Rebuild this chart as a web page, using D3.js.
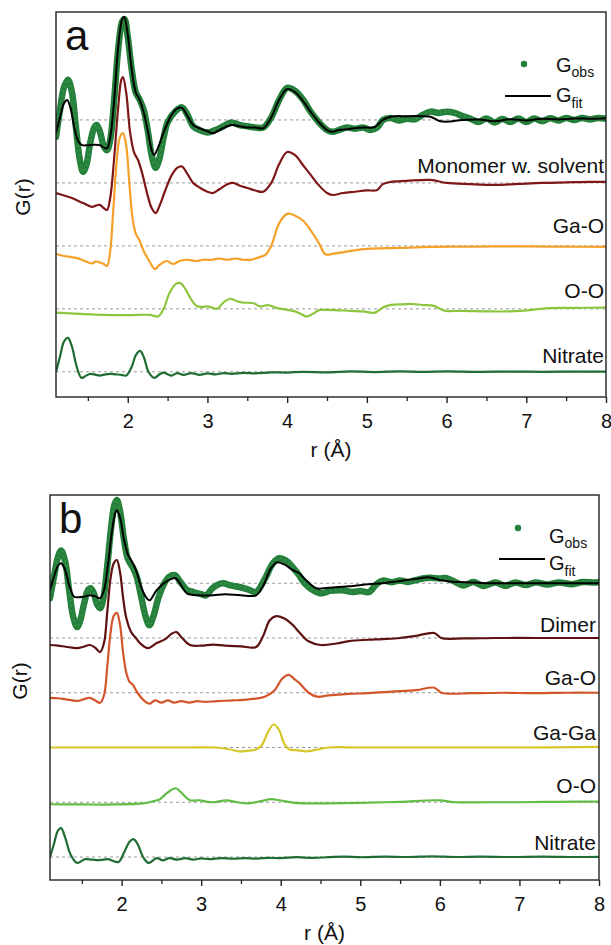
<!DOCTYPE html>
<html><head><meta charset="utf-8">
<script src="https://cdn.jsdelivr.net/npm/d3@7"></script>
<style>body{margin:0;background:#fff} svg text{font-family:"Liberation Sans",Arial,Helvetica,sans-serif;fill:#111}</style>
</head><body><svg id="c" width="611" height="945"></svg>
<script>
// ---------- axis ----------
const xDomain = [1.1, 8];
const xTicks = [2, 3, 4, 5, 6, 7, 8];
const xMinor = [1.5, 2.5, 3.5, 4.5, 5.5, 6.5, 7.5];

// ---------- panel a : [r, G] relative to each curve's offset ----------
const aLabels  = ["Monomer w. solvent", "Ga-O", "O-O", "Nitrate"];
const aOffsets = [10, 7.5, 5, 2.5, 0];   // Gobs/Gfit, Monomer, Ga-O, O-O, Nitrate

const aObs = [[1.1,-0.67],[1.15,0.4],[1.2,1.3],[1.25,1.6],[1.3,1.1],[1.35,-0.3],[1.4,-1.6],[1.44,-2.06],[1.48,-1.8],[1.53,-0.9],[1.58,-0.3],[1.61,-0.2],[1.65,-0.45],[1.7,-1.05],[1.74,-1.2],[1.78,-0.8],[1.83,0.8],[1.88,2.8],[1.93,3.9],[1.96,4.0],[2.0,3.3],[2.05,2.0],[2.1,1.1],[2.15,0.8],[2.2,0.4],[2.25,-0.4],[2.3,-1.4],[2.35,-1.9],[2.4,-1.5],[2.45,-0.7],[2.5,-0.1],[2.6,0.35],[2.68,0.5],[2.75,0.2],[2.82,-0.25],[2.9,-0.4],[3.0,-0.5],[3.1,-0.4],[3.2,-0.25],[3.3,-0.1],[3.4,-0.2],[3.5,-0.25],[3.6,-0.3],[3.7,-0.3],[3.8,0.1],[3.9,0.8],[4.0,1.27],[4.1,1.15],[4.2,0.8],[4.3,0.3],[4.4,-0.1],[4.5,-0.4],[4.57,-0.47],[4.65,-0.4],[4.75,-0.3],[4.85,-0.35],[4.95,-0.3],[5.05,-0.4],[5.13,-0.3],[5.2,0.0],[5.3,0.08],[5.4,-0.02],[5.5,0.05],[5.6,0.02],[5.7,0.2],[5.8,0.33],[5.9,0.28],[6.0,0.33],[6.1,0.28],[6.2,0.15],[6.3,0.05],[6.4,-0.08],[6.5,0.06],[6.6,-0.1],[6.7,0.04],[6.8,-0.08],[6.9,0.06],[7.0,-0.08],[7.1,0.06],[7.2,-0.05],[7.3,0.07],[7.4,-0.02],[7.5,0.08],[7.6,0.0],[7.7,0.08],[7.8,0.02],[7.9,0.08],[8.0,0.05]];
const aFit = [[1.1,-0.52],[1.15,0.1],[1.2,0.65],[1.24,0.79],[1.28,0.5],[1.33,-0.3],[1.38,-0.85],[1.43,-1.0],[1.5,-1.0],[1.58,-0.98],[1.65,-1.0],[1.7,-1.1],[1.74,-1.13],[1.78,-0.7],[1.83,0.8],[1.88,2.9],[1.93,4.0],[1.955,4.1],[2.0,3.4],[2.05,2.0],[2.1,1.1],[2.15,0.8],[2.2,0.3],[2.25,-0.4],[2.3,-1.2],[2.33,-1.39],[2.38,-1.1],[2.45,-0.5],[2.55,0.2],[2.62,0.45],[2.68,0.48],[2.75,0.15],[2.82,-0.2],[2.9,-0.33],[3.0,-0.45],[3.07,-0.53],[3.15,-0.4],[3.25,-0.25],[3.32,-0.2],[3.4,-0.25],[3.5,-0.3],[3.6,-0.3],[3.7,-0.33],[3.8,0.1],[3.9,0.8],[4.0,1.23],[4.1,1.1],[4.2,0.75],[4.3,0.3],[4.4,-0.1],[4.5,-0.4],[4.57,-0.47],[4.65,-0.4],[4.8,-0.35],[4.95,-0.3],[5.1,-0.28],[5.2,0.0],[5.3,0.13],[5.5,0.15],[5.7,0.15],[5.8,0.13],[5.9,-0.03],[6.0,-0.07],[6.2,0.0],[6.4,0.02],[6.6,-0.05],[6.8,0.03],[7.0,-0.02],[7.2,0.05],[7.4,0.02],[7.6,0.06],[7.8,0.05],[8.0,0.07]];
const aMonomer = [[1.1,-0.4],[1.2,-0.5],[1.3,-0.6],[1.44,-0.8],[1.55,-0.95],[1.6,-0.9],[1.65,-0.87],[1.7,-1.0],[1.74,-1.07],[1.78,-0.6],[1.83,1.0],[1.88,3.0],[1.92,4.1],[1.94,4.2],[1.98,3.6],[2.03,2.0],[2.08,1.2],[2.13,0.9],[2.18,0.4],[2.25,-0.5],[2.3,-1.0],[2.35,-1.2],[2.4,-0.9],[2.47,-0.3],[2.55,0.3],[2.62,0.6],[2.68,0.65],[2.75,0.35],[2.82,0.0],[2.91,-0.2],[3.0,-0.35],[3.07,-0.4],[3.15,-0.25],[3.25,-0.05],[3.32,0.0],[3.4,-0.1],[3.5,-0.2],[3.6,-0.3],[3.7,-0.35],[3.8,0.0],[3.9,0.75],[4.0,1.23],[4.1,1.1],[4.2,0.7],[4.3,0.3],[4.4,-0.1],[4.5,-0.4],[4.57,-0.48],[4.7,-0.4],[4.85,-0.35],[5.0,-0.3],[5.13,-0.28],[5.2,-0.05],[5.3,0.04],[5.5,0.08],[5.8,0.12],[6.0,0.0],[6.3,-0.05],[6.6,-0.08],[6.9,-0.04],[7.2,0.0],[7.5,0.02],[7.8,0.04],[8.0,0.04]];
const aGaO = [[1.1,-0.32],[1.2,-0.4],[1.3,-0.45],[1.4,-0.52],[1.5,-0.65],[1.55,-0.7],[1.6,-0.62],[1.65,-0.66],[1.7,-0.72],[1.74,-0.8],[1.78,-0.2],[1.82,1.5],[1.86,3.3],[1.9,4.3],[1.94,4.48],[1.98,4.0],[2.02,2.5],[2.06,1.1],[2.1,0.5],[2.15,0.2],[2.2,-0.2],[2.27,-0.6],[2.34,-0.92],[2.4,-0.75],[2.49,-0.6],[2.57,-0.72],[2.65,-0.6],[2.75,-0.55],[2.85,-0.6],[2.95,-0.55],[3.05,-0.55],[3.15,-0.5],[3.25,-0.55],[3.35,-0.5],[3.45,-0.55],[3.55,-0.55],[3.65,-0.45],[3.73,-0.35],[3.8,0.0],[3.9,0.9],[4.0,1.27],[4.1,1.2],[4.2,1.0],[4.3,0.6],[4.4,0.1],[4.48,-0.33],[4.6,-0.3],[4.8,-0.2],[5.0,-0.12],[5.4,-0.08],[5.8,-0.04],[6.2,-0.03],[6.6,-0.02],[7.0,-0.02],[7.5,-0.03],[8.0,-0.04]];
const aOO = [[1.1,-0.15],[1.4,-0.2],[1.7,-0.24],[2.0,-0.25],[2.28,-0.24],[2.38,-0.3],[2.45,0.0],[2.52,0.6],[2.6,0.98],[2.66,1.02],[2.72,0.8],[2.8,0.35],[2.87,0.1],[2.93,0.08],[2.99,0.1],[3.06,0.05],[3.12,0.0],[3.2,0.25],[3.29,0.4],[3.37,0.3],[3.45,0.25],[3.58,0.22],[3.66,0.1],[3.76,0.15],[3.85,0.05],[4.0,-0.04],[4.1,-0.1],[4.2,-0.25],[4.25,-0.3],[4.32,-0.2],[4.4,-0.05],[4.48,-0.04],[4.6,-0.05],[4.79,-0.08],[4.95,-0.1],[5.1,-0.15],[5.2,0.05],[5.3,0.16],[5.45,0.18],[5.55,0.2],[5.7,0.15],[5.84,0.12],[5.93,-0.02],[5.99,-0.08],[6.2,-0.08],[6.5,-0.1],[6.8,-0.1],[7.05,-0.05],[7.27,0.03],[7.6,0.04],[8.0,0.05]];
const aNitrate = [[1.1,0.0],[1.15,0.6],[1.2,1.2],[1.25,1.35],[1.3,1.0],[1.36,0.2],[1.42,-0.24],[1.48,-0.15],[1.53,-0.08],[1.6,-0.12],[1.65,-0.15],[1.72,-0.1],[1.78,-0.08],[1.85,-0.1],[1.92,-0.12],[1.98,-0.15],[2.05,0.2],[2.1,0.65],[2.155,0.83],[2.2,0.6],[2.26,0.0],[2.33,-0.24],[2.4,-0.1],[2.45,-0.03],[2.5,-0.1],[2.55,-0.15],[2.62,-0.05],[2.7,-0.12],[2.8,-0.05],[2.9,-0.12],[3.0,-0.06],[3.1,-0.1],[3.2,-0.05],[3.3,-0.08],[3.45,-0.04],[3.6,-0.06],[3.8,-0.02],[4.0,-0.03],[4.2,0.0],[4.5,-0.02],[4.8,0.02],[5.1,-0.01],[5.4,0.02],[5.7,0.0],[6.0,0.02],[6.4,0.0],[6.8,0.01],[7.2,0.0],[7.6,0.01],[8.0,0.01]];

// ---------- panel b ----------
const bLabels  = ["Dimer", "Ga-O", "Ga-Ga", "O-O", "Nitrate"];
const bOffsets = [12.5, 10, 7.5, 5, 2.5, 0];  // Gobs/Gfit, Dimer, Ga-O, Ga-Ga, O-O, Nitrate

const bObs = [[1.1,-0.68],[1.15,0.3],[1.2,1.2],[1.24,1.5],[1.29,1.0],[1.34,-0.3],[1.39,-1.5],[1.44,-2.0],[1.48,-1.7],[1.53,-0.9],[1.58,-0.3],[1.61,-0.23],[1.65,-0.45],[1.69,-0.95],[1.73,-1.14],[1.77,-0.7],[1.82,0.8],[1.87,2.6],[1.91,3.6],[1.94,3.8],[1.98,3.3],[2.03,2.0],[2.08,1.1],[2.14,0.73],[2.19,0.3],[2.24,-0.5],[2.3,-1.5],[2.35,-1.92],[2.4,-1.5],[2.46,-0.7],[2.53,-0.05],[2.6,0.3],[2.67,0.37],[2.74,0.05],[2.82,-0.3],[2.9,-0.4],[3.0,-0.5],[3.06,-0.55],[3.15,-0.2],[3.27,0.0],[3.37,-0.1],[3.48,-0.17],[3.6,-0.3],[3.69,-0.4],[3.8,0.2],[3.9,0.9],[3.98,1.14],[4.08,1.0],[4.18,0.6],[4.23,0.37],[4.3,0.0],[4.4,-0.3],[4.52,-0.46],[4.62,-0.35],[4.77,-0.32],[4.9,-0.4],[5.0,-0.35],[5.11,-0.4],[5.2,-0.05],[5.28,0.12],[5.4,0.05],[5.5,0.13],[5.6,0.06],[5.7,0.15],[5.86,0.25],[6.0,0.22],[6.07,0.24],[6.2,0.05],[6.3,-0.1],[6.42,0.06],[6.55,-0.12],[6.7,0.04],[6.82,-0.12],[6.95,0.04],[7.08,-0.08],[7.2,0.04],[7.35,-0.06],[7.5,0.04],[7.65,-0.04],[7.8,0.06],[7.95,0.03],[8.0,0.06]];
const bFit = [[1.1,-0.32],[1.15,0.3],[1.2,0.8],[1.24,0.91],[1.29,0.6],[1.35,-0.2],[1.4,-0.6],[1.44,-0.64],[1.52,-0.62],[1.6,-0.55],[1.67,-0.6],[1.73,-0.68],[1.78,-0.3],[1.83,0.9],[1.88,2.4],[1.92,3.2],[1.94,3.33],[1.98,3.0],[2.03,2.0],[2.08,1.3],[2.12,1.05],[2.18,0.6],[2.24,-0.1],[2.3,-0.6],[2.35,-0.78],[2.44,-0.32],[2.55,0.05],[2.63,0.2],[2.68,0.23],[2.75,-0.1],[2.82,-0.46],[2.98,-0.55],[3.15,-0.55],[3.3,-0.5],[3.5,-0.55],[3.69,-0.55],[3.78,-0.1],[3.88,0.7],[3.96,0.96],[4.05,0.85],[4.15,0.6],[4.23,0.46],[4.33,0.1],[4.45,-0.23],[4.6,-0.2],[4.86,-0.14],[5.1,-0.05],[5.28,0.0],[5.5,0.1],[5.7,0.2],[5.86,0.27],[6.0,0.15],[6.15,0.07],[6.32,0.05],[6.6,0.0],[7.0,0.0],[7.5,0.0],[8.0,0.0]];
const bDimer = [[1.1,-0.32],[1.2,-0.35],[1.3,-0.4],[1.44,-0.46],[1.52,-0.4],[1.6,-0.32],[1.67,-0.45],[1.73,-0.64],[1.78,-0.2],[1.82,1.2],[1.86,2.7],[1.9,3.4],[1.94,3.56],[1.98,3.0],[2.02,1.8],[2.06,0.9],[2.12,0.27],[2.18,0.0],[2.23,-0.23],[2.33,-0.46],[2.44,-0.23],[2.55,-0.05],[2.63,0.2],[2.69,0.27],[2.76,0.0],[2.86,-0.32],[3.0,-0.35],[3.15,-0.3],[3.3,-0.35],[3.5,-0.38],[3.69,-0.41],[3.78,0.1],[3.86,0.8],[3.94,1.0],[4.04,0.9],[4.15,0.6],[4.23,0.27],[4.35,-0.15],[4.5,-0.32],[4.7,-0.25],[4.86,-0.14],[5.1,-0.08],[5.28,-0.05],[5.5,0.0],[5.7,0.1],[5.93,0.23],[6.02,0.0],[6.3,-0.02],[6.7,0.0],[7.2,0.0],[7.6,0.0],[8.0,0.0]];
const bGaO = [[1.1,-0.23],[1.2,-0.25],[1.3,-0.3],[1.44,-0.37],[1.52,-0.3],[1.6,-0.23],[1.67,-0.35],[1.73,-0.46],[1.78,-0.1],[1.82,1.2],[1.86,2.7],[1.9,3.5],[1.94,3.65],[1.98,3.1],[2.02,1.8],[2.06,0.9],[2.1,0.5],[2.14,0.37],[2.2,0.0],[2.28,-0.35],[2.35,-0.5],[2.42,-0.35],[2.5,-0.45],[2.58,-0.35],[2.66,-0.45],[2.75,-0.38],[2.85,-0.45],[2.95,-0.38],[3.05,-0.42],[3.2,-0.38],[3.4,-0.35],[3.6,-0.3],[3.8,-0.18],[3.92,0.1],[4.02,0.65],[4.1,0.82],[4.18,0.6],[4.23,0.46],[4.35,0.0],[4.46,-0.18],[4.6,-0.12],[4.86,-0.05],[5.1,-0.02],[5.4,0.05],[5.7,0.12],[5.93,0.23],[6.02,0.0],[6.4,-0.02],[6.8,0.0],[7.2,-0.02],[7.6,0.0],[8.0,0.0]];
const bGaGa = [[1.1,0.0],[1.6,0.0],[2.2,0.0],[2.8,0.0],[3.19,0.0],[3.35,-0.08],[3.48,-0.18],[3.6,-0.14],[3.69,-0.09],[3.76,0.1],[3.84,0.7],[3.91,1.05],[3.98,0.8],[4.04,0.2],[4.11,-0.09],[4.2,-0.12],[4.32,-0.18],[4.45,-0.1],[4.6,0.0],[5.0,0.0],[6.0,0.0],[7.0,0.0],[8.0,0.03]];
const bOO = [[1.1,-0.09],[1.5,-0.1],[1.9,-0.1],[2.27,-0.05],[2.4,0.05],[2.48,0.14],[2.58,0.45],[2.68,0.64],[2.76,0.4],[2.86,0.09],[2.98,0.09],[3.08,0.02],[3.15,0.0],[3.32,0.09],[3.45,0.0],[3.6,-0.05],[3.75,0.05],[3.88,0.14],[4.0,0.08],[4.15,-0.02],[4.32,-0.05],[4.6,-0.05],[5.0,-0.03],[5.5,0.02],[5.99,0.09],[6.2,0.0],[6.6,0.0],[7.0,0.0],[7.5,0.02],[8.0,0.03]];
const bNitrate = [[1.1,0.0],[1.15,0.6],[1.2,1.2],[1.24,1.32],[1.29,0.9],[1.36,0.1],[1.44,-0.27],[1.54,-0.1],[1.63,-0.12],[1.73,-0.14],[1.83,-0.1],[1.96,-0.23],[2.03,0.2],[2.1,0.7],[2.15,0.82],[2.2,0.6],[2.27,0.0],[2.34,-0.27],[2.44,-0.05],[2.52,-0.15],[2.6,-0.05],[2.7,-0.12],[2.8,-0.05],[2.9,-0.12],[3.0,-0.06],[3.1,-0.1],[3.25,-0.05],[3.4,-0.08],[3.55,-0.05],[3.7,-0.07],[3.85,-0.04],[4.0,-0.05],[4.2,-0.01],[4.4,-0.04],[4.6,-0.01],[4.8,0.02],[5.0,-0.01],[5.3,0.02],[5.6,0.0],[5.9,0.03],[6.2,0.0],[6.5,0.02],[6.9,0.0],[7.3,0.02],[7.7,0.0],[8.0,0.01]];

// ---------- drawing ----------
const svg = d3.select("#c");
const OBS = "#24803a";

function drawPanel(p) {
  const x = d3.scaleLinear().domain(xDomain).range([p.left, p.right]);
  const y = d3.scaleLinear().domain(p.yDomain).range([p.bottom, p.top]);
  const g = svg.append("g");
  const clipId = "clip" + p.id;
  svg.append("clipPath").attr("id", clipId).append("rect")
    .attr("x", p.left).attr("y", p.top).attr("width", p.right - p.left).attr("height", p.bottom - p.top);
  const plot = g.append("g").attr("clip-path", `url(#${clipId})`);

  // dashed baselines
  plot.selectAll("line.base").data(p.offsets).join("line")
    .attr("x1", x(xDomain[0])).attr("x2", x(xDomain[1]))
    .attr("y1", d => y(d)).attr("y2", d => y(d))
    .attr("stroke", "#9a9a9a").attr("stroke-width", 1).attr("stroke-dasharray", "3,3");

  const line = off => d3.line().curve(d3.curveCatmullRom.alpha(0.5))
    .x(d => x(d[0])).y(d => y(d[1] + off));

  // components
  p.comps.forEach((c, i) => {
    plot.append("path").datum(c.data).attr("d", line(p.offsets[i + 1]))
      .attr("fill", "none").attr("stroke", c.color).attr("stroke-width", 2.2)
      .attr("stroke-linejoin", "round");
  });
  // observed (thick dotted band) and fit
  plot.append("path").datum(p.obs).attr("d", line(p.offsets[0]))
    .attr("fill", "none").attr("stroke", OBS).attr("stroke-width", 6.5)
    .attr("stroke-linejoin", "round").attr("stroke-linecap", "round");
  plot.append("path").datum(p.obs).attr("d", line(p.offsets[0]))
    .attr("fill", "none").attr("stroke", "#3d9650").attr("stroke-width", 2.5)
    .attr("stroke-dasharray", "2,3").attr("opacity", 0.6);
  plot.append("path").datum(p.fit).attr("d", line(p.offsets[0]))
    .attr("fill", "none").attr("stroke", "#000").attr("stroke-width", 2);

  // labels
  g.selectAll("text.lab").data(p.comps).join("text")
    .attr("x", p.right - p.labDx).attr("y", (d, i) => y(p.offsets[i + 1]) - p.labDy[i])
    .attr("text-anchor", "end").attr("font-size", 21).text(d => d.label);

  // frame
  g.append("rect").attr("x", p.left).attr("y", p.top)
    .attr("width", p.right - p.left).attr("height", p.bottom - p.top)
    .attr("fill", "none").attr("stroke", "#222").attr("stroke-width", 1.4);

  // axis
  const ax = g.append("g").attr("transform", `translate(0,${p.bottom})`)
    .call(d3.axisBottom(x).tickValues(xTicks).tickFormat(d3.format("d"))
      .tickSize(6).tickSizeOuter(0).tickPadding(11));
  ax.select(".domain").remove();
  ax.selectAll("line").attr("stroke", "#222").attr("stroke-width", 1.4);
  ax.selectAll("text").attr("font-size", 20).attr("fill", "#111")
    .attr("font-family", '"Liberation Sans",Arial,sans-serif');
  const axm = g.append("g").attr("transform", `translate(0,${p.bottom})`)
    .call(d3.axisBottom(x).tickValues(xMinor).tickSize(4).tickFormat(""));
  axm.select(".domain").remove();
  axm.selectAll("line").attr("stroke", "#222").attr("stroke-width", 1.3);

  // axis titles
  g.append("text").attr("x", (p.left + p.right) / 2).attr("y", p.xTitleY)
    .attr("text-anchor", "middle").attr("font-size", 21).text("r (Å)");
  g.append("text").attr("transform", `translate(${p.yTitleX},${p.yTitleY}) rotate(-90)`)
    .attr("text-anchor", "middle").attr("font-size", 21).text("G(r)");
  // panel letter
  g.append("text").attr("x", p.left + 9).attr("y", p.letterY)
    .attr("font-size", 42).text(p.letter);

  // legend
  const L = p.legend;
  g.append("circle").attr("cx", L.dotX).attr("cy", L.dotY).attr("r", 3.2).attr("fill", OBS);
  const t1 = g.append("text").attr("x", L.textX).attr("y", L.obsY).attr("font-size", 20);
  t1.append("tspan").text("G");
  t1.append("tspan").attr("dy", 5).attr("font-size", 14).text("obs");
  g.append("line").attr("x1", L.lineX1).attr("x2", L.lineX2).attr("y1", L.lineY).attr("y2", L.lineY)
    .attr("stroke", "#000").attr("stroke-width", 2);
  const t2 = g.append("text").attr("x", L.textX).attr("y", L.fitY).attr("font-size", 20);
  t2.append("tspan").text("G");
  t2.append("tspan").attr("dy", 6).attr("font-size", 14).text("fit");
}

drawPanel({
  id: "a", letter: "a", left: 56, right: 606, top: 12, bottom: 397,
  yDomain: [-1, 14.286], offsets: aOffsets,
  obs: aObs, fit: aFit,
  comps: [
    { data: aMonomer, color: "#7e1717", label: aLabels[0] },
    { data: aGaO, color: "#f5a028", label: aLabels[1] },
    { data: aOO, color: "#8cc63e", label: aLabels[2] },
    { data: aNitrate, color: "#1f6d34", label: aLabels[3] }
  ],
  labDx: 2, labDy: [10, 13, 11, 9],
  xTitleY: 457, yTitleX: 30, yTitleY: 197, letterY: 50,
  legend: { dotX: 524, dotY: 64, textX: 556, obsY: 72, lineX1: 505, lineX2: 551, lineY: 96, fitY: 102 }
});

drawPanel({
  id: "b", letter: "b", left: 50, right: 599, top: 495, bottom: 880,
  yDomain: [-1.05, 16.53], offsets: bOffsets,
  obs: bObs, fit: bFit,
  comps: [
    { data: bDimer, color: "#5e1111", label: bLabels[0] },
    { data: bGaO, color: "#d2552b", label: bLabels[1] },
    { data: bGaGa, color: "#d6c62c", label: bLabels[2] },
    { data: bOO, color: "#62bd45", label: bLabels[3] },
    { data: bNitrate, color: "#1f6d34", label: bLabels[4] }
  ],
  labDx: 3, labDy: [6, 8, 8, 9, 7],
  xTitleY: 940, yTitleX: 27, yTitleY: 681, letterY: 533,
  legend: { dotX: 518, dotY: 528, textX: 549, obsY: 543, lineX1: 499, lineX2: 545, lineY: 559, fitY: 570 }
});
</script></body></html>
